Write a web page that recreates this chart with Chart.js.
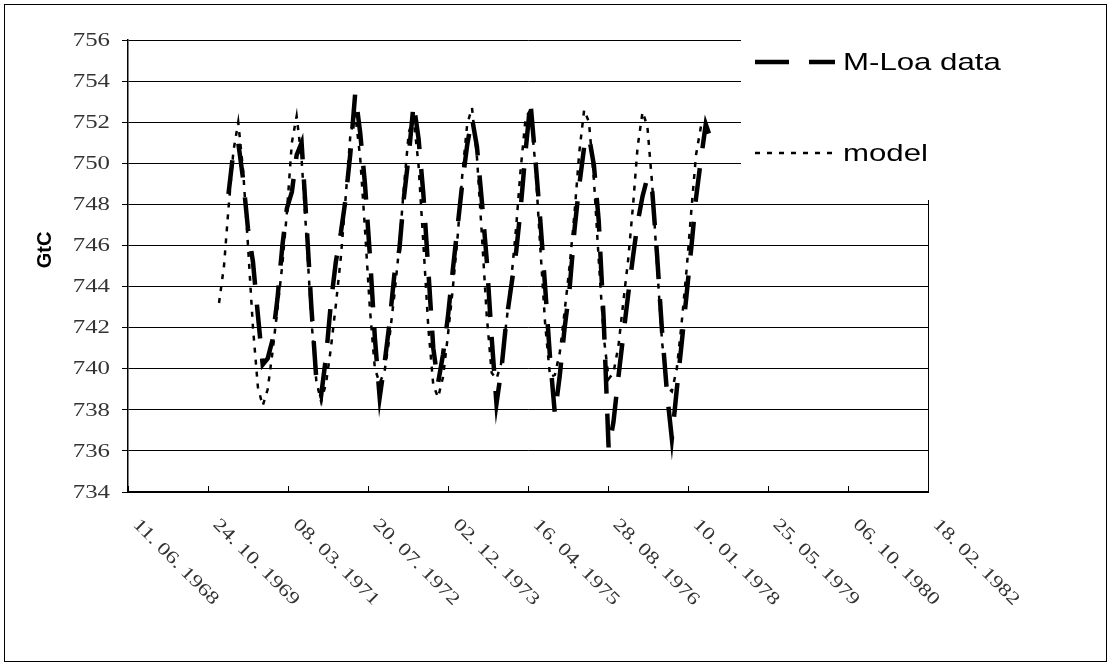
<!DOCTYPE html>
<html>
<head>
<meta charset="utf-8">
<script src="https://cdn.jsdelivr.net/npm/chart.js@4.4.1/dist/chart.umd.min.js"></script>
<style>
  html, body { margin: 0; padding: 0; background: #fff; }
</style>
</head>
<body>
<canvas id="co2Chart" width="1111" height="666"></canvas>
<script>
'use strict';

// ── Data (monthly, Jan 1970 onwards) ─────────────────────────────
const firstYear = 1970;

// model, Jan 1970 .. Apr 1978 (GtC)
const modelValues = [
    743.2, 745.0, 747.8, 750.6, 752.0, 749.6, 746.0, 742.0, 739.1, 738.2, 739.0, 740.8, // 1970
    742.9, 745.1, 747.6, 751.0, 752.3, 750.2, 746.5, 742.4, 739.4, 738.4, 739.3, 741.0, // 1971
    743.1, 745.4, 748.2, 751.4, 752.4, 750.3, 746.8, 742.9, 740.0, 739.3, 739.9, 741.5, // 1972
    743.6, 746.0, 748.8, 751.5, 752.2, 749.9, 746.1, 742.0, 739.2, 738.6, 739.6, 741.6, // 1973
    743.9, 746.5, 749.4, 751.9, 752.7, 750.3, 746.6, 742.6, 739.8, 739.5, 740.3, 742.2, // 1974
    744.3, 746.9, 749.7, 752.2, 752.6, 749.9, 746.0, 742.2, 739.6, 739.7, 740.8, 742.8, // 1975
    745.0, 747.6, 750.5, 752.6, 752.0, 749.2, 745.3, 741.6, 739.5, 739.8, 741.1, 743.2, // 1976
    745.3, 748.0, 750.8, 752.5, 751.8, 748.9, 745.0, 741.3, 739.1, 738.9, 740.0, 742.2, // 1977
    744.8, 747.8, 750.4, 751.8, null,  null                                              // 1978
];

// Mauna Loa data, Jan 1970 .. Jun 1978 (GtC)
const mloaValues = [
    null,  null,  748.5, 750.6, 751.0, 749.2, 746.8, 745.2, 742.6, 740.2, 740.5, 741.4, // 1970
    743.4, 746.0, 747.8, 748.6, 750.4, 751.0, 747.2, 743.0, 739.5, 738.7, 740.6, 743.2, // 1971
    745.2, 746.6, 748.2, 750.5, 753.4, 751.5, 749.0, 745.5, 741.5, 738.6, 740.3, 742.2, // 1972
    744.6, 745.8, 748.3, 750.4, 752.9, 751.2, 748.5, 744.8, 741.0, 739.3, 740.7, 742.5, // 1973
    744.8, 747.0, 749.0, 750.9, 752.2, 750.8, 748.2, 745.3, 741.5, 738.3, 740.0, 742.3, // 1974
    744.0, 745.7, 747.8, 750.6, 753.0, 750.2, 747.3, 744.0, 740.5, 737.8, 739.7, 742.0, // 1975
    743.9, 746.8, 748.9, 750.8, 751.3, 749.9, 747.2, 742.4, 736.1, 737.4, 739.6, 741.6, // 1976
    743.6, 745.5, 747.1, 748.4, 749.3, 748.6, 745.5, 741.8, 738.8, 736.6, 739.0, 741.2, // 1977
    743.6, 746.0, 748.3, 750.2, 751.9, 751.2                                             // 1978
];

const seriesNames = ['M-Loa data', 'model'];
const yTicks = [734, 736, 738, 740, 742, 744, 746, 748, 750, 752, 754, 756];
const xStartDate = [1968, 5, 11];  // 11.06.1968, first x tick
const xTickDays = 500;             // tick spacing in days
const xTickCount = 10;

// ── Date helpers ─────────────────────────────────────────────────
const DAY_MS = 86400000;
const ORIGIN = Date.UTC(...xStartDate);

function monthDay(i) {
    const y = firstYear + Math.floor(i / 12);
    return (Date.UTC(y, i % 12, 1) - ORIGIN) / DAY_MS;
}

function fmtDate(days) {
    const d = new Date(ORIGIN + days * DAY_MS);
    const pad = n => String(n).padStart(2, '0');
    return `${pad(d.getUTCDate())}. ${pad(d.getUTCMonth() + 1)}. ${d.getUTCFullYear()}`;
}

const toPoints = vals => vals.map((v, i) => ({ x: monthDay(i), y: v }));

// ── Plot frame, axis labels, legend box ──────────────────────────
const PLOT = { left: 128, top: 40, right: 928, bottom: 492 };
const SERIF = '"Liberation Serif", "Times New Roman", serif';
const SANS = '"Liberation Sans", Arial, sans-serif';

const chartDecor = {
    id: 'chartDecor',
    afterDraw(chart) {
        const { ctx, chartArea: a, scales: { x, y } } = chart;
        ctx.save();
        ctx.strokeStyle = '#000';
        ctx.lineWidth = 1;

        // right edge of plot area
        ctx.beginPath();
        ctx.moveTo(a.right + 0.5, a.top);
        ctx.lineTo(a.right + 0.5, a.bottom);
        ctx.stroke();

        // y tick labels (wide serif digits)
        ctx.font = `18px ${SERIF}`;
        ctx.fillStyle = '#333';
        ctx.textAlign = 'right';
        ctx.textBaseline = 'middle';
        y.ticks.forEach(t => {
            const py = y.getPixelForValue(t.value);
            ctx.save();
            ctx.translate(110, py + 1);
            ctx.scale(1.38, 1);
            ctx.fillText(String(t.value), 0, 0);
            ctx.restore();
        });

        // y title
        ctx.save();
        ctx.translate(45, 250);
        ctx.rotate(-Math.PI / 2);
        ctx.font = `bold 20px ${SANS}`;
        ctx.fillStyle = '#000';
        ctx.textAlign = 'center';
        ctx.fillText('GtC', 0, 0);
        ctx.restore();

        // x tick marks (inside) and rotated date labels
        ctx.font = `18px ${SERIF}`;
        ctx.fillStyle = '#333';
        x.ticks.forEach(t => {
            const px = Math.round(x.getPixelForValue(t.value)) + 0.5;
            ctx.beginPath();
            ctx.moveTo(px, a.bottom);
            ctx.lineTo(px, a.bottom - 6);
            ctx.stroke();

            ctx.save();
            ctx.translate(px + 7, a.bottom + 30);
            ctx.rotate(Math.PI / 4);
            ctx.scale(1.27, 1);
            ctx.textAlign = 'left';
            ctx.textBaseline = 'middle';
            ctx.fillText(fmtDate(t.value), 0, 0);
            ctx.restore();
        });

        // legend, drawn over the top-right of the plot
        ctx.fillStyle = '#fff';
        ctx.fillRect(741, 28, 290, 172);
        const rows = [62, 153];
        chart.data.datasets.forEach((ds, i) => {
            const yy = rows[i];
            ctx.save();
            ctx.strokeStyle = ds.borderColor;
            ctx.lineWidth = ds.borderWidth;
            ctx.setLineDash(ds.borderDash);
            ctx.beginPath();
            ctx.moveTo(755, yy);
            ctx.lineTo(835, yy);
            ctx.stroke();
            ctx.restore();

            ctx.save();
            ctx.translate(843, yy + 1);
            ctx.scale(1.3, 1);
            ctx.fillStyle = '#000';
            ctx.font = `24px ${SANS}`;
            ctx.textAlign = 'left';
            ctx.textBaseline = 'middle';
            ctx.fillText(ds.label, 0, 0);
            ctx.restore();
        });

        // outer frame of the picture
        ctx.lineWidth = 1;
        ctx.strokeStyle = '#000';
        ctx.strokeRect(4.5, 4.5, 1102, 657);
        ctx.restore();
    }
};

// ── Chart ────────────────────────────────────────────────────────
new Chart(document.getElementById('co2Chart'), {
    type: 'line',
    data: {
        datasets: [
            {
                label: seriesNames[0],
                data: toPoints(mloaValues),
                borderColor: '#000',
                borderWidth: 4.5,
                borderDash: [34, 20],
                pointRadius: 0,
                tension: 0,
                spanGaps: false,
            },
            {
                label: seriesNames[1],
                data: toPoints(modelValues),
                borderColor: '#000',
                borderWidth: 2.5,
                borderDash: [5, 7],
                pointRadius: 0,
                tension: 0,
                spanGaps: false,
            }
        ]
    },
    options: {
        responsive: false,
        devicePixelRatio: 1,
        animation: false,
        layout: { padding: { left: 0, top: PLOT.top, right: 1111 - PLOT.right, bottom: 0 } },
        plugins: { legend: { display: false }, tooltip: { enabled: false } },
        scales: {
            x: {
                type: 'linear',
                min: 0,
                max: xTickDays * xTickCount,
                afterFit: s => { s.height = 666 - PLOT.bottom; },
                ticks: { stepSize: xTickDays, display: false },
                grid: { display: false },
                border: { display: true, color: '#000', width: 2 }
            },
            y: {
                min: yTicks[0],
                max: yTicks[yTicks.length - 1],
                afterFit: s => { s.width = PLOT.left; },
                afterBuildTicks: s => { s.ticks = yTicks.map(v => ({ value: v })); },
                ticks: { display: false },
                grid: { color: '#000', lineWidth: 1, tickLength: 6 },
                border: { display: true, color: '#000', width: 1.5 }
            }
        }
    },
    plugins: [chartDecor]
});
</script>
</body>
</html>
